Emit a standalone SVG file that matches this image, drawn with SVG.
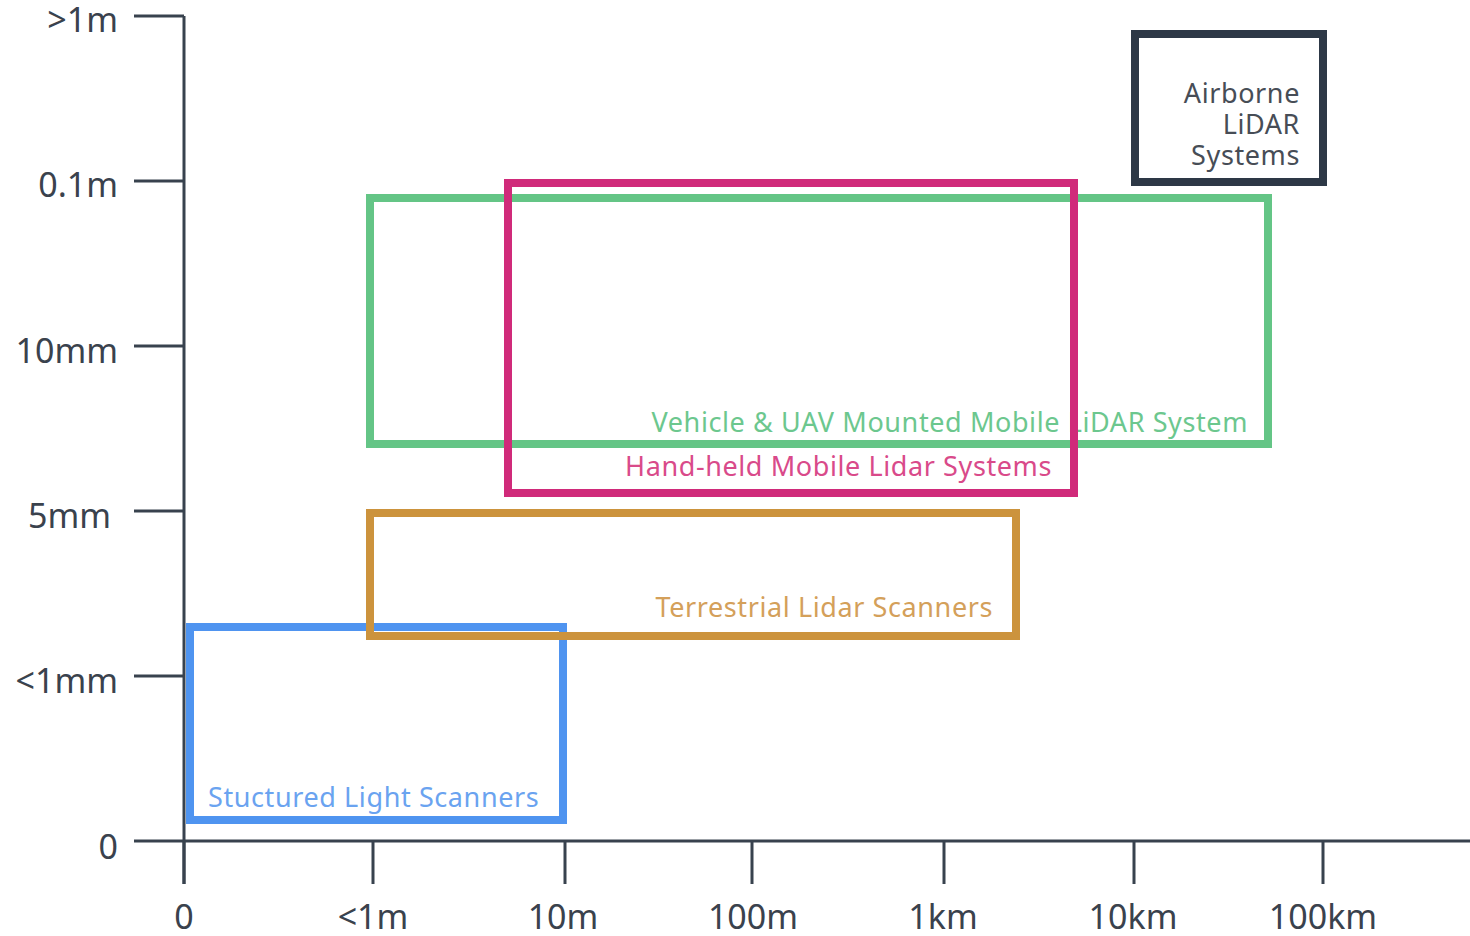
<svg xmlns="http://www.w3.org/2000/svg" width="1470" height="936" viewBox="0 0 1470 936">
<style>
.ax{stroke:#38424e;stroke-width:3;fill:none}
.lbl{font-family:"Noto Sans","Liberation Sans",sans-serif;font-size:34px;fill:#3a424d}
.box{fill:none;stroke-width:8}
.t{font-family:"Noto Sans","Liberation Sans",sans-serif;font-size:27px;letter-spacing:0.6px}
</style>
<rect width="1470" height="936" fill="#ffffff"/>
<g id="axes">
<path class="ax" d="M184 16V884M134 16H184M134 181H184M134 346H184M134 511H184M134 676H184M134 841H1470"/>
<path class="ax" d="M184 841V884M373 841V884M565 841V884M752 841V884M944 841V884M1134 841V884M1323 841V884"/>
<g class="lbl" text-anchor="end">
<text x="118" y="32">&gt;1m</text>
<text x="118" y="197">0.1m</text>
<text x="118" y="363">10mm</text>
<text x="111" y="528">5mm</text>
<text x="118" y="693">&lt;1mm</text>
<text x="118" y="859">0</text>
</g>
<g class="lbl" text-anchor="middle">
<text x="184" y="929">0</text>
<text x="373" y="929">&lt;1m</text>
<text x="563" y="929">10m</text>
<text x="753" y="929">100m</text>
<text x="943" y="929">1km</text>
<text x="1133" y="929">10km</text>
<text x="1323" y="929">100km</text>
</g>
</g>
<g id="airborne">
<rect class="box" x="1135" y="34" width="188" height="148" stroke="#2d3846"/>
<g class="t" fill="#474d56" text-anchor="end">
<text x="1300" y="103">Airborne</text>
<text x="1300" y="134">LiDAR</text>
<text x="1300" y="165">Systems</text>
</g>
</g>
<g id="vehicle">
<rect class="box" x="370" y="198" width="898" height="246" stroke="#64c586"/>
<text class="t" x="1248" y="432" text-anchor="end" fill="#6cc78e">Vehicle &amp; UAV Mounted Mobile LiDAR System</text>
</g>
<g id="handheld">
<rect class="box" x="508" y="183" width="566" height="310" stroke="#d02a7a"/>
<text class="t" x="1052" y="476" text-anchor="end" fill="#d94a8a">Hand-held Mobile Lidar Systems</text>
</g>
<g id="structured">
<rect class="box" x="190" y="627" width="373" height="193" stroke="#4f94f0"/>
<text class="t" x="208" y="807" fill="#6aa3f0">Stuctured Light Scanners</text>
</g>
<g id="terrestrial">
<rect class="box" x="370" y="513" width="646" height="123" stroke="#cc933d"/>
<text class="t" x="993" y="617" text-anchor="end" fill="#d4a05a">Terrestrial Lidar Scanners</text>
</g>
</svg>
